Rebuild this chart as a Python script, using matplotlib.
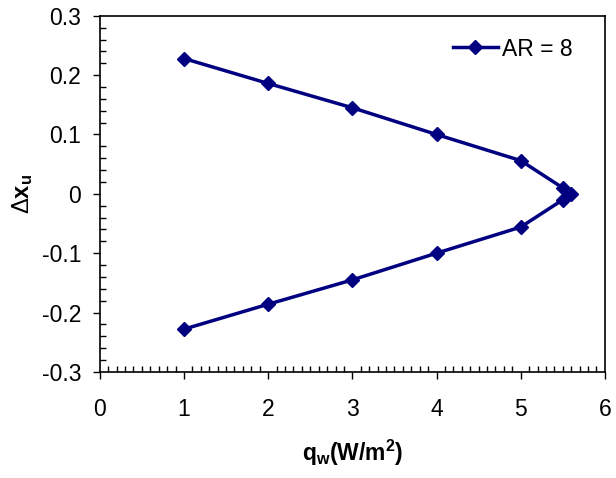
import numpy as np
import matplotlib.pyplot as plt
from matplotlib.ticker import MultipleLocator

plt.rcParams['font.family'] = ['Liberation Sans', 'DejaVu Sans']
plt.rcParams['mathtext.fontset'] = 'custom'
plt.rcParams['mathtext.rm'] = 'Liberation Sans'
plt.rcParams['mathtext.bf'] = 'Liberation Sans:bold'
plt.rcParams['mathtext.it'] = 'Liberation Sans:italic'

# heat flux and interface displacement, AR = 8
qw = [1, 2, 3, 4, 5, 5.5, 5.6, 5.5, 5, 4, 3, 2, 1]
dxu = [0.228, 0.186, 0.145, 0.1, 0.056, 0.01, 0.0,
       -0.01, -0.056, -0.1, -0.145, -0.186, -0.228]

fs = 16.5

fig = plt.figure(figsize=(6.16, 4.78), dpi=100)
ax = fig.add_axes([0.162, 0.222, 0.820, 0.745])

ax.plot(qw, dxu, color='#000080', lw=2.5, marker='D', ms=7,
        label='AR = 8')

ax.set_xlim(0, 6)
ax.set_ylim(-0.3, 0.3)
ax.xaxis.set_major_locator(MultipleLocator(1))
ax.xaxis.set_minor_locator(MultipleLocator(0.1))
ax.yaxis.set_minor_locator(MultipleLocator(0.02))
ax.set_yticks(np.arange(-0.3, 0.31, 0.1))
ax.set_yticklabels(['-0.3', '-0.2', '-0.1', '0', '0.1', '0.2', '0.3'])

ax.tick_params(which='major', direction='out', length=5, width=1,
               labelsize=fs, colors='black')
ax.tick_params(axis='x', which='major', pad=14)
ax.tick_params(axis='y', which='major', pad=8.5)
ax.tick_params(which='minor', direction='in', length=4, width=1)
ax.tick_params(top=False, right=False, which='both')
for s in ax.spines.values():
    s.set_linewidth(1.2)

ax.set_xlabel(r'$\mathbf{q_w(W/m^2)}$', fontsize=fs, labelpad=12)
ax.set_ylabel(r'$\Delta\mathbf{x_u}$', fontsize=fs + 0.5, labelpad=5)

ax.legend(loc='center left', bbox_to_anchor=(453 / 616, 1 - 49 / 478),
          bbox_transform=fig.transFigure, frameon=False, fontsize=fs,
          handlelength=1.95, handletextpad=0.2, borderpad=0,
          borderaxespad=0)

plt.savefig('out.png', dpi=100)
